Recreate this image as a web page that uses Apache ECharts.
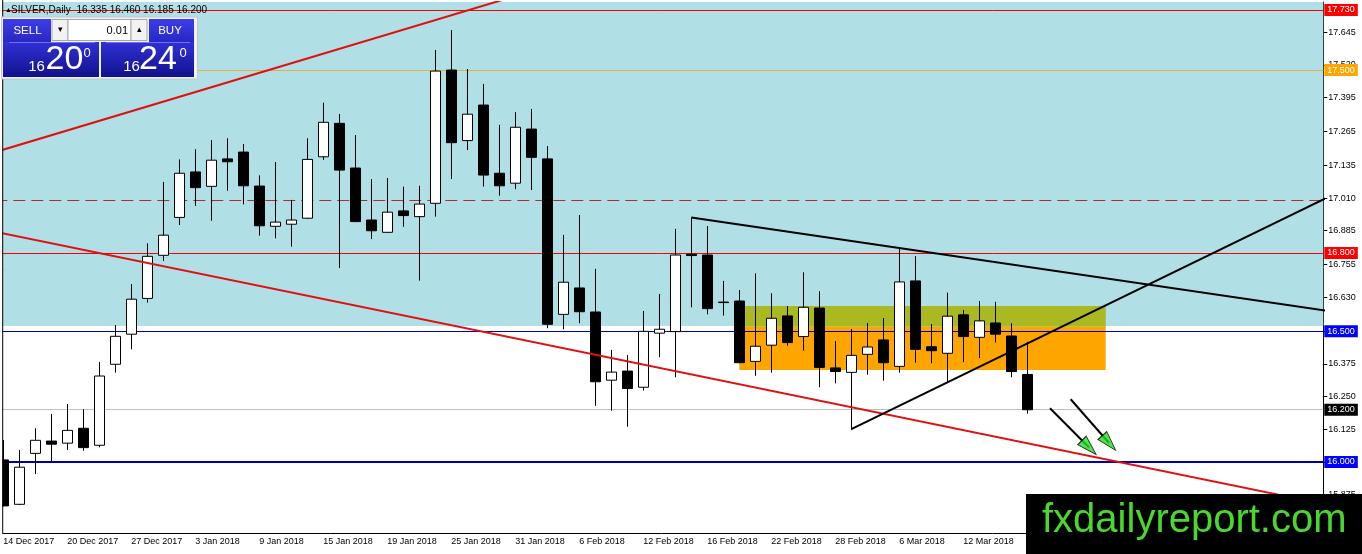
<!DOCTYPE html>
<html><head><meta charset="utf-8">
<script src="https://cdn.jsdelivr.net/npm/echarts@6/dist/echarts.min.js"></script>
<style>html,body{margin:0;padding:0;background:#fff;}#c{width:1362px;height:554px;}</style>
</head><body><div id="c"></div>
<script>
// ---------- data ----------
const dates = ['14 Dec 2017','15 Dec 2017','18 Dec 2017','19 Dec 2017','20 Dec 2017','21 Dec 2017','22 Dec 2017','26 Dec 2017','27 Dec 2017','28 Dec 2017','29 Dec 2017','2 Jan 2018','3 Jan 2018','4 Jan 2018','5 Jan 2018','8 Jan 2018','9 Jan 2018','10 Jan 2018','11 Jan 2018','12 Jan 2018','15 Jan 2018','16 Jan 2018','17 Jan 2018','18 Jan 2018','19 Jan 2018','22 Jan 2018','23 Jan 2018','24 Jan 2018','25 Jan 2018','26 Jan 2018','29 Jan 2018','30 Jan 2018','31 Jan 2018','1 Feb 2018','2 Feb 2018','5 Feb 2018','6 Feb 2018','7 Feb 2018','8 Feb 2018','9 Feb 2018','12 Feb 2018','13 Feb 2018','14 Feb 2018','15 Feb 2018','16 Feb 2018','19 Feb 2018','20 Feb 2018','21 Feb 2018','22 Feb 2018','23 Feb 2018','26 Feb 2018','27 Feb 2018','28 Feb 2018','1 Mar 2018','2 Mar 2018','5 Mar 2018','6 Mar 2018','7 Mar 2018','8 Mar 2018','9 Mar 2018','12 Mar 2018','13 Mar 2018','14 Mar 2018','15 Mar 2018','16 Mar 2018'];
const opens  = [16.008,15.838,16.033,16.080,16.072,16.129,16.064,16.374,16.489,16.626,16.791,16.936,17.110,17.055,17.160,17.186,17.056,16.902,16.910,16.933,17.168,17.296,17.125,16.926,16.879,16.961,16.939,16.990,17.500,17.230,17.366,17.105,17.067,17.274,17.160,16.565,16.666,16.574,16.313,16.348,16.286,16.493,16.499,16.795,16.792,16.612,16.616,16.385,16.447,16.559,16.480,16.589,16.360,16.343,16.412,16.467,16.366,16.693,16.441,16.416,16.563,16.477,16.532,16.482,16.335];
const closes = [15.832,15.980,16.083,16.068,16.121,16.055,16.329,16.481,16.623,16.787,16.868,17.105,17.050,17.155,17.149,17.057,16.904,16.918,16.926,17.158,17.300,17.117,16.920,16.885,16.956,16.943,16.987,17.496,17.222,17.331,17.098,17.057,17.281,17.166,16.527,16.688,16.575,16.307,16.344,16.281,16.500,16.508,16.792,16.790,16.587,16.610,16.380,16.443,16.550,16.457,16.592,16.362,16.346,16.408,16.440,16.380,16.689,16.431,16.426,16.558,16.480,16.540,16.489,16.346,16.200];
const lows   = [15.830,15.835,15.954,16.001,16.046,16.043,16.056,16.342,16.431,16.610,16.769,16.907,16.980,16.923,17.038,16.986,16.866,16.856,16.824,16.930,17.156,16.742,16.918,16.853,16.877,16.900,16.694,16.939,17.083,17.194,17.054,17.019,17.044,17.041,16.512,16.508,16.531,16.215,16.196,16.135,16.273,16.401,16.324,16.592,16.565,16.560,16.378,16.330,16.342,16.445,16.426,16.286,16.301,16.122,16.334,16.311,16.342,16.380,16.378,16.303,16.382,16.398,16.457,16.324,16.185];
const highs  = [16.084,16.046,16.129,16.184,16.222,16.202,16.383,16.524,16.681,16.837,17.072,17.158,17.197,17.232,17.239,17.217,17.097,17.148,17.003,17.239,17.375,17.332,17.251,17.083,17.087,17.054,17.057,17.577,17.653,17.504,17.447,17.290,17.339,17.351,17.209,16.869,16.945,16.739,16.429,16.409,16.578,16.643,16.892,16.936,16.903,16.693,16.658,16.722,16.646,16.597,16.726,16.654,16.463,16.509,16.532,16.551,16.815,16.788,16.528,16.648,16.582,16.616,16.613,16.531,16.460];
const emptySlots = 18;
const yTicks = [17.645,17.520,17.395,17.265,17.135,17.010,16.885,16.755,16.630,16.500,16.375,16.250,16.125,16.000,15.875];
const levelValues = [17.730,17.500,17.000,16.800,16.500,16.200,16.000];
const askPrice = 16.240;
// drawn objects in (bar index, price) coordinates
const redUpper   = [[-1,17.177],[32,17.783]];
const redLower   = [[-1,16.887],[83,15.833]];
const blackResist= [[43,16.936],[83,16.576]];
const blackSupport=[[53,16.126],[83,17.020]];
const cyanZone   = [[-0.5,16.520],[82.5,17.7604]];
const oliveZone  = [[46.36,16.518],[68.9,16.597]];
const orangeZone = [[46.0,16.352],[68.9,16.518]];
const arrow1 = [[65.42,16.2055],[67.86,16.0555]];
const arrow2 = [[66.71,16.240],[69.11,16.0727]];

// ---------- chart ----------
const FONT = 'Liberation Sans';
const categories = dates.concat(Array(emptySlots).fill(''));
const candles = dates.map((d,i)=>[opens[i],closes[i],lows[i],highs[i]]);
const last = dates.length-1;

const levelStyles = [
  {color:'#ff0000',width:1,type:'solid',bg:'#ff0000',label:true},
  {color:'#e8b040',width:1,type:'solid',bg:'#ffa500',label:true},
  {color:'#a83030',width:1,type:[12,6],bg:null,label:false},
  {color:'#ff0000',width:1,type:'solid',bg:'#ff0000',label:true},
  {color:'#0000c0',width:1,type:'solid',bg:'#0000ff',label:true},
  {color:'#c0c0c0',width:1,type:'solid',bg:'#000000',label:true},
  {color:'#0000a8',width:2,type:'solid',bg:'#0000ff',label:true}
];

function lineSeries(data,color,width){
  return {type:'line',xAxisIndex:1,yAxisIndex:0,data:data,symbol:'none',showSymbol:false,
    clip:true,silent:true,z:10,lineStyle:{color:color,width:width},animation:false};
}
function split(p){const s=p.toFixed(3);return [s.slice(0,2),s.slice(3,5),s.slice(5)];}
const bidParts = split(closes[last]);
const askParts = split(askPrice);

const topGrad = {type:'linear',x:0,y:0,x2:0,y2:1,colorStops:[{offset:0,color:'#3d3de8'},{offset:1,color:'#2828c4'}]};
const botGrad = {type:'linear',x:0,y:0,x2:0,y2:1,colorStops:[{offset:0,color:'#3030d6'},{offset:1,color:'#12128c'}]};

const chart = echarts.init(document.getElementById('c'),null,{renderer:'canvas'});
chart.setOption({
  animation:false,
  backgroundColor:'#ffffff',
  grid:{left:-4.7,right:38.7,top:2,bottom:21,outerBoundsMode:'none',containLabel:false},
  xAxis:[
    {type:'category',data:categories,boundaryGap:true,
     axisLine:{onZero:false,lineStyle:{color:'#000',width:1}},
     axisTick:{alignWithLabel:true,interval:3,length:4,lineStyle:{color:'#000'}},
     axisLabel:{interval:3,align:'left',color:'#000',fontSize:9,fontFamily:FONT,margin:4},
     splitLine:{show:false}},
    {type:'value',min:-0.5,max:82.5,show:false,axisLine:{onZero:false}}
  ],
  yAxis:[{type:'value',position:'right',min:15.7282,max:17.7604,
    axisLine:{show:true,onZero:false,lineStyle:{color:'#000',width:1}},
    axisTick:{show:true,length:4,customValues:yTicks,lineStyle:{color:'#000'}},
    axisLabel:{customValues:yTicks,formatter:v=>v.toFixed(3),color:'#000',fontSize:9,fontFamily:FONT,margin:5},
    splitLine:{show:false}}],
  series:[
    {type:'line',xAxisIndex:1,data:[],silent:true,z:1,
     markArea:{silent:true,data:[
       [{coord:cyanZone[0],itemStyle:{color:'#b0dfe5'}},{coord:cyanZone[1]}],
       [{coord:orangeZone[0],itemStyle:{color:'#ffa500'}},{coord:orangeZone[1]}],
       [{coord:oliveZone[0],itemStyle:{color:'#aab822'}},{coord:oliveZone[1]}]
     ]}},
    {type:'candlestick',xAxisIndex:0,data:candles,barWidth:10,z:5,silent:true,
     itemStyle:{color:'#ffffff',color0:'#000000',borderColor:'#000000',borderColor0:'#000000',borderWidth:1}},
    {type:'line',xAxisIndex:1,data:[],silent:true,z:12,clip:false,
     markLine:{silent:true,symbol:['none','none'],animation:false,
       data:levelValues.map((v,i)=>({yAxis:v,
         lineStyle:{color:levelStyles[i].color,width:levelStyles[i].width,type:levelStyles[i].type,opacity:1},
         label:levelStyles[i].label?{show:true,position:'end',distance:1,formatter:()=>v.toFixed(3),
           color:'#fff',backgroundColor:levelStyles[i].bg,padding:[2,3,1,3],fontSize:9,fontFamily:FONT}:{show:false}}))}},
    lineSeries(redUpper,'#e01010',2),
    lineSeries(redLower,'#e01010',2),
    lineSeries(blackResist,'#000',2),
    lineSeries(blackSupport,'#000',2),
    lineSeries(arrow1,'#000',2),
    lineSeries(arrow2,'#000',2),
    {type:'scatter',xAxisIndex:1,silent:true,z:14,symbol:'triangle',symbolSize:[12,20],
     itemStyle:{color:'#22dd22',borderColor:'#000',borderWidth:1},
     data:[{value:arrow1[1],symbolRotate:-135},{value:arrow2[1],symbolRotate:-138}]}
  ],
  graphic:[
    {type:'rect',z:100,silent:true,shape:{x:0,y:0,width:2.5,height:554},style:{fill:'#fff'}},
    {type:'line',z:100,silent:true,shape:{x1:2.7,y1:0,x2:2.7,y2:533.5},style:{stroke:'#000',lineWidth:1}},
    // title
    {type:'text',z:100,silent:true,style:{x:5,y:10,text:'▲',fontSize:7,fill:'#000',verticalAlign:'middle'}},
    {type:'text',z:100,silent:true,style:{x:11,y:10.5,
      text:'SILVER,Daily  '+[opens[last],highs[last],lows[last],closes[last]].map(v=>v.toFixed(3)).join(' '),
      fontSize:10,fontFamily:FONT,fill:'#000',verticalAlign:'middle'}},
    // trade panel
    {type:'rect',z:100,silent:true,shape:{x:1.5,y:17,width:196,height:62},style:{fill:'#eef2f4',stroke:'#c0c8cc',lineWidth:1}},
    {type:'rect',z:101,silent:true,shape:{x:3,y:19,width:48,height:23},style:{fill:topGrad}},
    {type:'rect',z:101,silent:true,shape:{x:149,y:19,width:45,height:23},style:{fill:topGrad}},
    {type:'rect',z:101,silent:true,shape:{x:3,y:42,width:96,height:35},style:{fill:botGrad}},
    {type:'rect',z:101,silent:true,shape:{x:101,y:42,width:93,height:35},style:{fill:botGrad}},
    {type:'line',z:102,silent:true,shape:{x1:9,y1:42.5,x2:95,y2:42.5},style:{stroke:'#6f6ff0',lineWidth:1}},
    {type:'line',z:102,silent:true,shape:{x1:106,y1:42.5,x2:190,y2:42.5},style:{stroke:'#6f6ff0',lineWidth:1}},
    {type:'rect',z:101,silent:true,shape:{x:52,y:19.5,width:16,height:21},style:{fill:'#f2f2f2',stroke:'#a8a8a8',lineWidth:1}},
    {type:'rect',z:101,silent:true,shape:{x:68,y:19.5,width:63,height:21},style:{fill:'#ffffff',stroke:'#a8a8a8',lineWidth:1}},
    {type:'rect',z:101,silent:true,shape:{x:131,y:19.5,width:16,height:21},style:{fill:'#f2f2f2',stroke:'#a8a8a8',lineWidth:1}},
    {type:'text',z:103,silent:true,style:{x:60,y:30,text:'▾',fontSize:9,fill:'#000',align:'center',verticalAlign:'middle'}},
    {type:'text',z:103,silent:true,style:{x:139,y:30,text:'▴',fontSize:9,fill:'#000',align:'center',verticalAlign:'middle'}},
    {type:'text',z:103,silent:true,style:{x:128,y:30.5,text:'0.01',fontSize:11,fontFamily:FONT,fill:'#000',align:'right',verticalAlign:'middle'}},
    {type:'text',z:103,silent:true,style:{x:27.5,y:31,text:'SELL',fontSize:11.5,fontFamily:FONT,fill:'#fff',align:'center',verticalAlign:'middle'}},
    {type:'text',z:103,silent:true,style:{x:170,y:31,text:'BUY',fontSize:11.5,fontFamily:FONT,fill:'#fff',align:'center',verticalAlign:'middle'}},
    {type:'text',z:103,silent:true,style:{x:36.5,y:66.5,text:bidParts[0],fontSize:15,fontFamily:FONT,fill:'#fff',align:'center',verticalAlign:'middle'}},
    {type:'text',z:103,silent:true,style:{x:64.5,y:60,text:bidParts[1],fontSize:34,fontFamily:FONT,fill:'#fff',align:'center',verticalAlign:'middle'}},
    {type:'text',z:103,silent:true,style:{x:87,y:53,text:bidParts[2],fontSize:13,fontFamily:FONT,fill:'#fff',align:'center',verticalAlign:'middle'}},
    {type:'text',z:103,silent:true,style:{x:131.5,y:66.5,text:askParts[0],fontSize:15,fontFamily:FONT,fill:'#fff',align:'center',verticalAlign:'middle'}},
    {type:'text',z:103,silent:true,style:{x:158,y:60,text:askParts[1],fontSize:34,fontFamily:FONT,fill:'#fff',align:'center',verticalAlign:'middle'}},
    {type:'text',z:103,silent:true,style:{x:183,y:53,text:askParts[2],fontSize:13,fontFamily:FONT,fill:'#fff',align:'center',verticalAlign:'middle'}},
    // watermark
    {type:'rect',z:110,silent:true,shape:{x:1026,y:494,width:336,height:60},style:{fill:'#000'}},
    {type:'text',z:111,silent:true,style:{x:1042,y:521,text:'fxdailyreport.com',fontSize:40,fontFamily:FONT,fill:'#4ad82c',verticalAlign:'middle'}}
  ]
});
</script></body></html>
